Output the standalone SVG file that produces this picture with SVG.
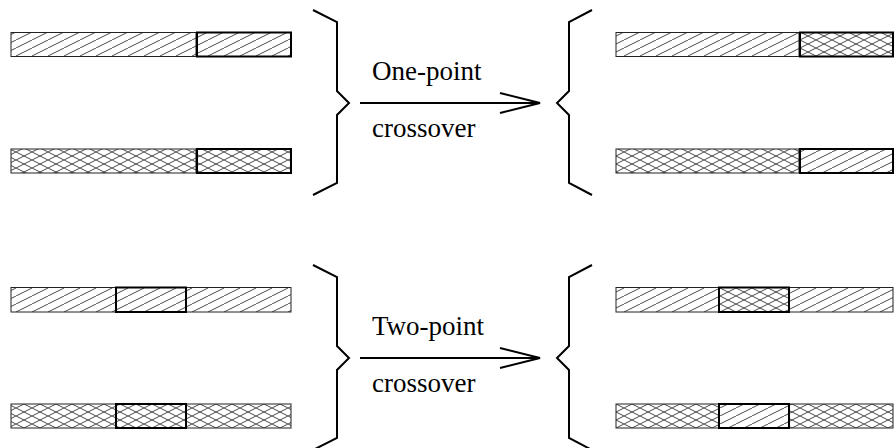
<svg xmlns="http://www.w3.org/2000/svg" width="894" height="448" viewBox="0 0 894 448">
  <style>
    .bar { stroke: #222; stroke-width: 1; }
    .seg { stroke: #000; stroke-width: 2; }
    .hatch { fill: url(#hatch); }
    .cross { fill: url(#cross); }
    .brace { fill: none; stroke: #000; stroke-width: 2; stroke-linejoin: miter; }
    .arrow { fill: none; stroke: #000; stroke-width: 2; }
    .label { font-family: "Liberation Serif", "Times New Roman", serif; font-size: 27px; fill: #000; }
  </style>
  <defs>
    <!-- single diagonal hatch -->
    <pattern id="hatch" patternUnits="userSpaceOnUse" width="16" height="8">
      <rect width="16" height="8" fill="#fff"/>
      <path d="M-4,10 L20,-2" stroke="#333" stroke-width="0.9"/>
    </pattern>
    <!-- diamond cross-hatch -->
    <pattern id="cross" patternUnits="userSpaceOnUse" width="16" height="8">
      <rect width="16" height="8" fill="#fff"/>
      <path d="M-4,10 L20,-2 M-4,-2 L20,10" stroke="#333" stroke-width="0.9"/>
    </pattern>
    <marker id="vhead" markerUnits="userSpaceOnUse" markerWidth="44" markerHeight="24" viewBox="-2 -2 44 24" refX="40" refY="10" orient="auto">
      <path d="M0,0 L40,10 L0,20" fill="none" stroke="#000" stroke-width="2"/>
    </marker>
  </defs>

  <!-- one-point crossover: parents -->
  <g id="p1a">
    <rect class="bar hatch" x="11" y="32.5" width="185" height="24"/>
    <rect class="seg hatch" x="197" y="32.5" width="94" height="24"/>
  </g>
  <g id="p1b">
    <rect class="bar cross" x="11" y="149" width="185" height="24"/>
    <rect class="seg cross" x="197" y="149" width="94" height="24"/>
  </g>
  <!-- one-point crossover: offspring -->
  <g id="c1a">
    <rect class="bar hatch" x="616" y="32.5" width="183" height="24"/>
    <rect class="seg cross" x="800" y="32.5" width="93" height="24"/>
  </g>
  <g id="c1b">
    <rect class="bar cross" x="616" y="149" width="183" height="24"/>
    <rect class="seg hatch" x="800" y="149" width="93" height="24"/>
  </g>

  <!-- two-point crossover: parents -->
  <g id="p2a">
    <rect class="bar hatch" x="11" y="287.5" width="280" height="24.5"/>
    <rect class="seg hatch" x="116" y="287.5" width="70" height="24.5"/>
  </g>
  <g id="p2b">
    <rect class="bar cross" x="11" y="404" width="280" height="24"/>
    <rect class="seg cross" x="116" y="404" width="70" height="24"/>
  </g>
  <!-- two-point crossover: offspring -->
  <g id="c2a">
    <rect class="bar hatch" x="616" y="287.5" width="277" height="24.5"/>
    <rect class="seg cross" x="719" y="287.5" width="70" height="24.5"/>
  </g>
  <g id="c2b">
    <rect class="bar cross" x="616" y="404" width="277" height="24"/>
    <rect class="seg hatch" x="719" y="404" width="70" height="24"/>
  </g>

  <!-- braces -->
  <g id="braces">
    <path class="brace" d="M313,10 L337,22 L337,91 L349,103 L337,115 L337,183 L313,195"/>
    <path class="brace" d="M592,10 L569,22 L569,91 L557,103 L569,115 L569,183 L592,195"/>
    <path class="brace" d="M313,265 L337,277 L337,346 L349,358 L337,370 L337,438 L313,450"/>
    <path class="brace" d="M592,265 L569,277 L569,346 L557,358 L569,370 L569,438 L592,450"/>
  </g>

  <!-- connectors -->
  <g id="connectors">
    <line class="arrow" x1="360" y1="103" x2="540" y2="103" marker-end="url(#vhead)"/>
    <line class="arrow" x1="360" y1="358" x2="540" y2="358" marker-end="url(#vhead)"/>
  </g>

  <g id="labels">
    <text class="label" x="372" y="80">One-point</text>
    <text class="label" x="372" y="137">crossover</text>
    <text class="label" x="372" y="335">Two-point</text>
    <text class="label" x="372" y="392">crossover</text>
  </g>
</svg>
